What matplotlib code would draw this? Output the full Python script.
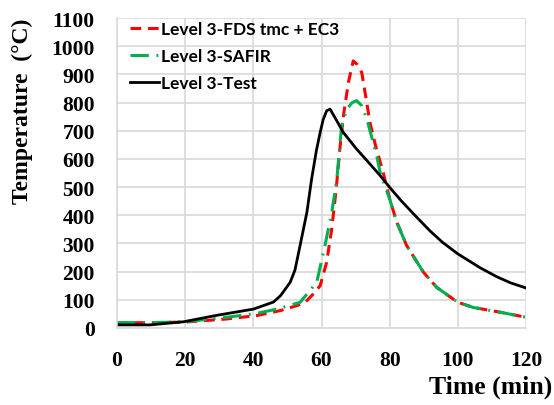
import matplotlib
matplotlib.use('Agg')
import matplotlib.pyplot as plt

# FDS tmc + EC3 (red dashed)
fds_t = [0, 10, 20, 32.2, 41, 48, 52.7, 55.2, 57.6, 59.6, 61.5, 63, 64.3, 65.5, 66.5, 67.9, 69.3,
         70.5, 71.8, 73, 74.2, 76, 78.1, 80, 82.1, 85, 89.9, 93.8, 100, 104.5, 112.4, 120]
fds_T = [18, 19, 21, 32, 44, 62, 79, 91, 121, 150, 233, 351, 493, 650, 760, 872, 948,
         935, 907, 820, 730, 640, 552, 458, 375, 292, 198, 144, 91, 73, 56, 38]

# SAFIR (green dash-dot)
safir_t = [0, 10, 20, 32.2, 41, 46.9, 53.7, 58.6, 61, 63, 64.5, 65.9, 67.4, 69, 70.3,
           71.8, 73.3, 76.2, 77.2, 78.6, 80, 82.1, 85, 89.9, 93.8, 100, 104.5, 112.4, 120]
safir_T = [19, 19, 22, 38, 52, 67, 91, 162, 292, 410, 529, 718, 777, 800, 807,
           789, 742, 611, 552, 505, 458, 375, 292, 198, 144, 91, 73, 56, 38]

# Test (black solid)
test_t = [0, 9.7, 19.5, 29.3, 33.2, 40, 45.9, 48, 50.8, 52.2, 53.7, 55.7, 57.1, 58.5, 59.6,
          60.5, 61.5, 62.5, 64.5, 66.4, 70.3, 74, 77.2, 80, 83.5, 87, 91.8, 95.5, 100,
          106.5, 111.4, 115.5, 120]
test_T = [11, 11, 22, 45, 53, 67, 92, 115, 162, 205, 292, 410, 529, 630, 694,
          740, 771, 777, 735, 694, 635, 585, 541, 499, 450, 405, 345, 304, 263,
          214, 182, 160, 142]

series_labels = ['Level 3-FDS tmc + EC3', 'Level 3-SAFIR', 'Level 3-Test']

fig = plt.figure(figsize=(5.54, 4.06), dpi=100)
ax = fig.add_axes([0.2112, 0.1897, 0.7383, 0.7633])

ax.plot(fds_t, fds_T, color='#ff0000', lw=2.2, ls=(0, (3.5, 2.2)), label=series_labels[0])
ax.plot(safir_t, safir_T, color='#00b050', lw=2.2, ls=(0, (6, 2.5, 0.6, 2.5)), label=series_labels[1])
ax.plot(test_t, test_T, color='black', lw=2.0, label=series_labels[2])

ax.set_xlim(0, 120)
ax.set_ylim(0, 1100)
ax.set_xticks(range(0, 121, 20))
ax.set_yticks(range(0, 1101, 100))
ax.grid(True, color='#d9d9d9', lw=1.2)
ax.set_axisbelow(True)
for s in ['top', 'right']:
    ax.spines[s].set_visible(False)
for s in ['left', 'bottom']:
    ax.spines[s].set_color('#d9d9d9')
    ax.spines[s].set_linewidth(1.2)
ax.tick_params(axis='y', length=0, pad=16)
ax.tick_params(axis='x', length=0, pad=16)
for lab in ax.get_xticklabels() + ax.get_yticklabels():
    lab.set_fontfamily('Liberation Serif')
    lab.set_fontweight('bold')
    lab.set_fontsize(15.5)

fig.text(0.041, 0.727, 'Temperature  (°C)', rotation=90, ha='center', va='center',
         family='Liberation Serif', weight='bold', fontsize=17)
fig.text(0.997, 0.045, 'Time (min)', ha='right', va='center',
         family='Liberation Serif', weight='bold', fontsize=18.5)

leg = ax.legend(loc='upper left', bbox_to_anchor=(0.032, 0.99), frameon=False,
                prop={'family': 'Lato', 'weight': 'bold', 'size': 12.5},
                handlelength=1.65, handletextpad=0.15, labelspacing=0.62,
                borderaxespad=0, borderpad=0)

fig.savefig('out.png', dpi=100)
